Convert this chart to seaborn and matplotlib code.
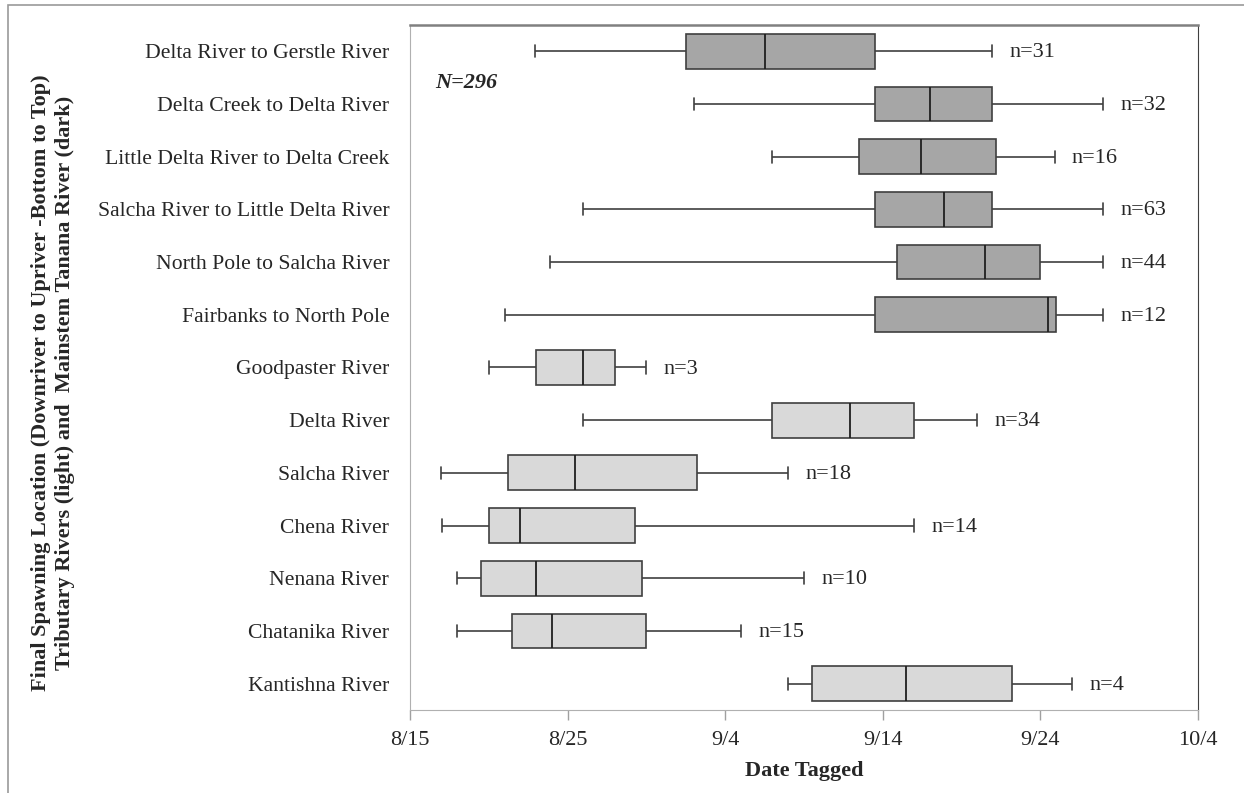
import pandas as pd
import numpy as np
import matplotlib
matplotlib.use("Agg")
import matplotlib.pyplot as plt
import seaborn as sns
from matplotlib.patches import Rectangle

# ==========================
# DATA (days after 8/15)
# ==========================
locations = [
    "Delta River to Gerstle River",
    "Delta Creek to Delta River",
    "Little Delta River to Delta Creek",
    "Salcha River to Little Delta River",
    "North Pole to Salcha River",
    "Fairbanks to North Pole",
    "Goodpaster River",
    "Delta River",
    "Salcha River",
    "Chena River",
    "Nenana River",
    "Chatanika River",
    "Kantishna River",
]
group = ["Mainstem"] * 6 + ["Tributary"] * 7

whisker_low = [7.95, 18.0, 23.0, 11.0, 8.9, 6.0, 5.0, 11.0, 1.95, 2.0, 3.0, 3.0, 24.0]
q1 = [17.5, 29.5, 28.5, 29.5, 30.9, 29.5, 8.0, 23.0, 6.2, 5.0, 4.5, 6.5, 25.5]
median = [22.5, 33.0, 32.4, 33.9, 36.5, 40.5, 11.0, 27.9, 10.5, 7.0, 8.0, 9.0, 31.5]
q3 = [29.5, 36.95, 37.2, 36.9, 40.0, 41.0, 13.0, 32.0, 18.2, 14.3, 14.7, 15.0, 38.2]
whisker_high = [36.95, 44.0, 40.9, 44.0, 44.0, 44.0, 15.0, 36.0, 24.0, 32.0, 25.0, 21.0, 42.0]
n_fish = [31, 32, 16, 63, 44, 12, 3, 34, 18, 14, 10, 15, 4]

tick_days = [0, 10, 20, 30, 40, 50]
tick_labels = ["8/15", "8/25", "9/4", "9/14", "9/24", "10/4"]

# five-number summary -> long table (linear percentiles give back the box exactly)
rows = []
for i, loc in enumerate(locations):
    for v in [whisker_low[i], q1[i], median[i], q3[i], whisker_high[i]]:
        rows.append({"Location": loc, "Group": group[i], "Day": v})
df = pd.DataFrame(rows)

# ==========================
# PLOT
# ==========================
sns.set_style("white")
plt.rcParams["font.family"] = ["Liberation Serif", "DejaVu Serif"]

fig = plt.figure(figsize=(12.44, 7.93), dpi=100)
ax = fig.add_axes([0.3296, 0.1047, 0.6334, 0.8638])

edge = "#3f3f3f"
sns.boxplot(
    data=df, x="Day", y="Location", hue="Group", order=locations,
    palette={"Mainstem": "#a6a6a6", "Tributary": "#d9d9d9"},
    orient="h", whis=(0, 100), width=0.66, dodge=False, legend=False,
    linewidth=1.2, linecolor=edge, showfliers=False,
    medianprops={"color": "#1f1f1f", "linewidth": 1.3},
    ax=ax,
)

# shorter whisker caps like the original
for ln in ax.lines:
    xd, yd = np.asarray(ln.get_xdata(), float), np.asarray(ln.get_ydata(), float)
    if len(xd) == 2 and xd[0] == xd[1] and abs(yd[1] - yd[0]) < 0.5:
        c = yd.mean()
        ln.set_ydata([c - 0.115, c + 0.115])

for i in range(len(locations)):
    ax.text(whisker_high[i] + 1.1, i + 0.03, f"n={n_fish[i]}",
            va="center", ha="left", fontsize=16)

ax.text(1.6, 0.6, "N=296", fontsize=16, fontweight="bold", style="italic",
        va="center", ha="left")

ax.set_xlim(0, 50)
ax.set_ylim(12.5, -0.5)
ax.set_xticks(tick_days)
ax.set_xticklabels(tick_labels, fontsize=16)
ax.set_yticks(range(len(locations)))
ax.set_yticklabels(locations, fontsize=15.6)
ax.set_yticks(np.arange(-0.5, 13, 1), minor=True)
ax.tick_params(axis="y", which="major", length=0, pad=15)
ax.tick_params(axis="y", which="minor", length=7, color="#a0a0a0", width=1)
ax.tick_params(axis="x", which="major", length=7, color="#a0a0a0", width=1,
               bottom=True, pad=8)

ax.set_xlabel("Date Tagged", fontsize=16, fontweight="bold", labelpad=8)
ax.set_ylabel("")
fig.text(53 / 1244, 1 - 383 / 793,
         "Final Spawning Location (Downriver to Upriver -Bottom to Top)\n"
         "Tributary Rivers (light) and  Mainstem Tanana River (dark)",
         rotation=90, ha="center", va="center", multialignment="center",
         fontsize=16, fontweight="bold", linespacing=1.25)

ax.spines["left"].set_color("#b0b0b0")
ax.spines["bottom"].set_color("#b0b0b0")
ax.spines["top"].set_color("#808080")
ax.spines["top"].set_linewidth(1.8)
ax.spines["right"].set_color("#404040")
for s in ax.spines.values():
    s.set_visible(True)

# outer frame of the figure
fig.patches.append(Rectangle((8 / 1244, -0.05), 1.1, 1.05 - 5 / 793,
                             transform=fig.transFigure, fill=False,
                             edgecolor="#9a9a9a", linewidth=1.2))

fig.savefig("out.png", dpi=100)
